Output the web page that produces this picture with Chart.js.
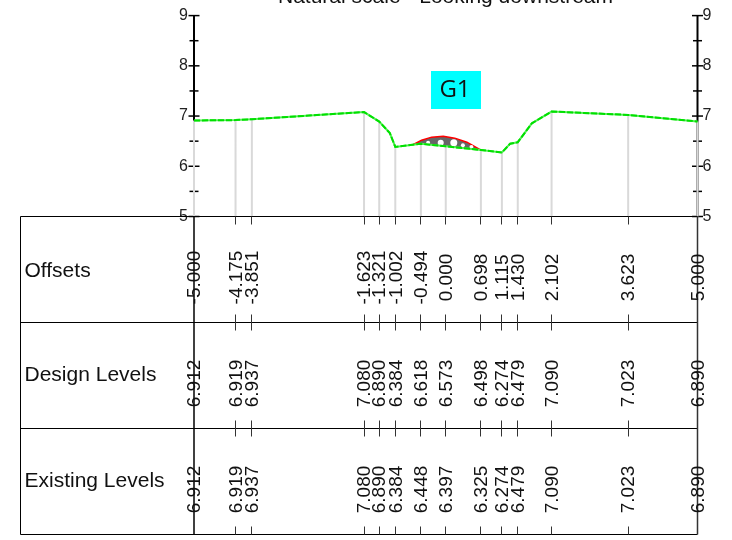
<!DOCTYPE html>
<html>
<head>
<meta charset="utf-8">
<title>Cross section</title>
<script src="https://cdn.jsdelivr.net/npm/chart.js@4"></script>
<style>
    html, body { margin: 0; padding: 0; background: #fff; }
    canvas { display: block; }
</style>
</head>
<body>
<canvas id="section" width="732" height="540"></canvas>
<script>
// --- DATA ---
const chartTitle = 'Natural scale - Looking downstream';
const structureLabel = 'G1';
const rowLabels = ['Offsets', 'Design Levels', 'Existing Levels'];

const offsets = [-5, -4.175, -3.851, -1.623, -1.321, -1.002, -0.494, 0, 0.698, 1.115, 1.43, 2.102, 3.623, 5];
const designLevels = [6.912, 6.919, 6.937, 7.08, 6.89, 6.384, 6.618, 6.573, 6.498, 6.274, 6.479, 7.09, 7.023, 6.89];
const existingLevels = [6.912, 6.919, 6.937, 7.08, 6.89, 6.384, 6.448, 6.397, 6.325, 6.274, 6.479, 7.09, 7.023, 6.89];

// ground profile, includes a few vertices that are not listed in the table
const groundOffsets = [-5, -4.175, -3.851, -1.623, -1.321, -1.11, -1.002, -0.494, 0, 0.698, 1.115, 1.28, 1.43, 1.71, 2.102, 3.623, 5];
const groundLevels = [6.912, 6.919, 6.937, 7.08, 6.89, 6.66, 6.384, 6.448, 6.397, 6.325, 6.274, 6.45, 6.479, 6.855, 7.09, 7.023, 6.89];

const crownOffsets = [-0.67, -0.48, -0.28, -0.05, 0.18, 0.42, 0.7];
const crownLevels = [6.42, 6.52, 6.58, 6.6, 6.56, 6.48, 6.32];

const holeOffsets = [-0.35, -0.1, 0.16, 0.34, 0.51];
const holeLevels = [6.47, 6.47, 6.47, 6.42, 6.385];

// --- LAYOUT ---
const rowLines = [216.5, 322.5, 428.5, 534.5];
const tableLeft = 20.5;
const valueFont = '19px "Liberation Sans", Arial, sans-serif';
const labelFont = '21px "Liberation Sans", Arial, sans-serif';

const toPoints = (xs, ys) => xs.map((x, i) => ({ x: x, y: ys[i] }));

function dropLines() {
    const pts = [];
    offsets.forEach((x, i) => {
        pts.push({ x: x, y: existingLevels[i] }, { x: x, y: 5 }, { x: x, y: NaN });
    });
    return pts;
}

function line(ctx, x1, y1, x2, y2) {
    ctx.beginPath();
    ctx.moveTo(x1, y1);
    ctx.lineTo(x2, y2);
    ctx.stroke();
}

// axis spines and tick marks go under the datasets, the grey drops cover them
const axisPlugin = {
    id: 'axisPlugin',
    beforeDatasetsDraw(chart) {
        const { ctx, scales } = chart;
        ctx.save();
        ctx.strokeStyle = '#000';
        [scales.x.getPixelForValue(-5), scales.x.getPixelForValue(5)].forEach(px => {
            ctx.lineWidth = 2;
            line(ctx, px, scales.y.getPixelForValue(9), px, scales.y.getPixelForValue(5));
            ctx.lineWidth = 1.5;
            scales.y.ticks.forEach(t => {
                const py = scales.y.getPixelForValue(t.value);
                const len = Number.isInteger(t.value) ? 5.5 : 4.5;
                line(ctx, px - len, py, px + len, py);
            });
        });
        ctx.restore();
    }
};

// the table under the section and the labels on top of it
const tablePlugin = {
    id: 'tablePlugin',
    afterDraw(chart) {
        const { ctx, scales } = chart;
        const xLeft = scales.x.getPixelForValue(-5);
        const xRight = scales.x.getPixelForValue(5);
        ctx.save();

        ctx.strokeStyle = '#000';
        ctx.lineWidth = 1;
        rowLines.forEach(y => line(ctx, tableLeft, y, xRight, y));
        line(ctx, tableLeft, rowLines[0], tableLeft, rowLines[3]);
        ctx.lineWidth = 1.5;
        line(ctx, xLeft, rowLines[0], xLeft, rowLines[3]);
        ctx.strokeStyle = '#333';
        line(ctx, xRight, rowLines[0], xRight, rowLines[3]);

        ctx.strokeStyle = '#333';
        ctx.lineWidth = 1;
        offsets.slice(1, -1).forEach(v => {
            const px = Math.floor(scales.x.getPixelForValue(v)) + 0.5;
            line(ctx, px, rowLines[0], px, rowLines[0] + 8);
            line(ctx, px, rowLines[1] - 8, px, rowLines[1] + 8);
            line(ctx, px, rowLines[2] - 8, px, rowLines[2] + 8);
            line(ctx, px, rowLines[3] - 8, px, rowLines[3]);
        });

        ctx.fillStyle = '#111';
        ctx.font = labelFont;
        ctx.textAlign = 'left';
        ctx.textBaseline = 'middle';
        rowLabels.forEach((label, r) => {
            ctx.fillText(label, 24.5, (rowLines[r] + rowLines[r + 1]) / 2 + (r === 0 ? 1.5 : 0));
        });

        const columns = [
            offsets.map(v => v.toFixed(3)),
            designLevels.map(v => v.toFixed(3)),
            existingLevels.map(v => v.toFixed(3))
        ];
        ctx.font = valueFont;
        ctx.textAlign = 'center';
        columns.forEach((col, r) => {
            const cy = (rowLines[r] + rowLines[r + 1]) / 2 + 8;
            col.forEach((text, i) => {
                ctx.save();
                ctx.translate(scales.x.getPixelForValue(offsets[i]), cy);
                ctx.rotate(-Math.PI / 2);
                ctx.fillText(text, 0, 1);
                ctx.restore();
            });
        });

        ctx.font = labelFont;
        ctx.textBaseline = 'alphabetic';
        ctx.fillText(chartTitle, 445.5, 3);

        ctx.fillStyle = '#00ffff';
        ctx.fillRect(431, 71, 50, 38);
        ctx.fillStyle = '#111';
        ctx.font = '24px "Open Sans", sans-serif';
        ctx.textBaseline = 'middle';
        ctx.fillText(structureLabel, 455, 90);
        ctx.restore();
    }
};

new Chart(document.getElementById('section'), {
    type: 'scatter',
    data: {
        datasets: [
            { // 0: ground, base colour
                data: toPoints(groundOffsets, groundLevels),
                showLine: true, borderColor: '#55ee55', borderWidth: 2,
                pointRadius: 0, order: 1, clip: false
            },
            { // 1: ground, dashes on top
                data: toPoints(groundOffsets, groundLevels),
                showLine: true, borderColor: '#00e000', borderWidth: 2, borderDash: [6, 2],
                pointRadius: 0, order: 0, clip: false
            },
            { // 2: crown of the structure, filled down to the ground
                data: toPoints(crownOffsets, crownLevels),
                showLine: true, borderColor: '#ff0000', borderWidth: 1.5,
                backgroundColor: '#666666', fill: 0,
                pointRadius: 0, order: 3
            },
            { // 3: holes in the fill
                data: toPoints(holeOffsets, holeLevels),
                pointRadius: [2, 3, 3.5, 2, 2], pointBackgroundColor: '#fff', pointBorderWidth: 0,
                order: 2
            },
            { // 4: drop lines from ground to datum
                data: dropLines(),
                showLine: true, spanGaps: false, borderColor: '#d9d9d9', borderWidth: 2,
                pointRadius: 0, order: 4, clip: false
            }
        ]
    },
    options: {
        responsive: false,
        animation: false,
        events: [],
        layout: { padding: { left: 154, right: 0, top: 15, bottom: 323.5 } },
        plugins: {
            legend: { display: false },
            title: { display: false },
            tooltip: { enabled: false }
        },
        scales: {
            x: { type: 'linear', min: -5, max: 5, display: false },
            y: {
                min: 5, max: 9, position: 'left',
                border: { display: false },
                grid: { drawOnChartArea: false, drawTicks: false },
                afterFit(scale) { scale.width = 40; },
                ticks: {
                    stepSize: 0.5, autoSkip: false, padding: 6,
                    color: '#222', font: { family: '"Liberation Sans", Arial, sans-serif', size: 16 },
                    callback: v => Number.isInteger(v) ? String(v) : ''
                }
            },
            y2: {
                min: 5, max: 9, position: 'right',
                border: { display: false },
                grid: { drawOnChartArea: false, drawTicks: false },
                afterFit(scale) { scale.width = 34.5; },
                ticks: {
                    stepSize: 0.5, autoSkip: false, padding: 5,
                    color: '#222', font: { family: '"Liberation Sans", Arial, sans-serif', size: 16 },
                    callback: v => Number.isInteger(v) ? String(v) : ''
                }
            }
        }
    },
    plugins: [axisPlugin, tablePlugin]
});
</script>
</body>
</html>
